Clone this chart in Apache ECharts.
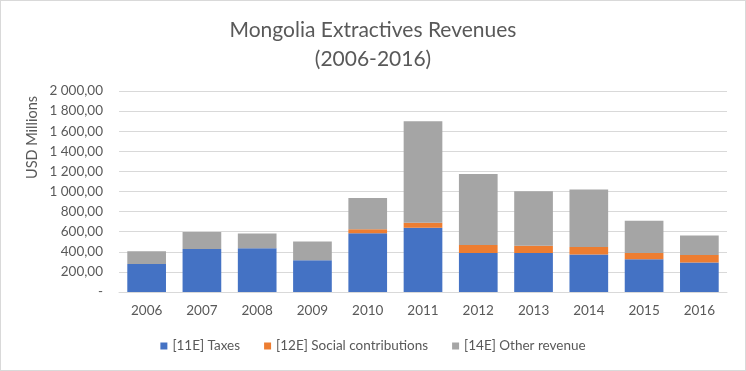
<!DOCTYPE html>
<html><head><meta charset="utf-8">
<script src="https://cdn.jsdelivr.net/npm/echarts@6/dist/echarts.min.js"></script>
<style>html,body{margin:0;padding:0;background:#fff}#c{width:746px;height:371px;box-sizing:border-box;border:1px solid #d9d9d9}</style>
</head><body><div id="c"></div>
<script>
var years = ['2006','2007','2008','2009','2010','2011','2012','2013','2014','2015','2016'];
var taxes = [278, 428, 435, 317, 585, 640, 389, 389, 373, 327, 294];
var social = [0, 0, 0, 0, 39, 50, 78, 72, 75, 62, 75];
var other = [127, 170, 147, 186, 311, 1009, 706, 542, 572, 320, 193];
var seriesNames = ['[11E] Taxes', '[12E] Social contributions', '[14E] Other revenue'];
var colors = ['#4472C4', '#ED7D31', '#A5A5A5'];

function fmt(v){
  if (v === 0) return '-';
  var s = Math.round(v).toString().replace(/\B(?=(\d{3})+(?!\d))/g, ' ');
  return s + ',00';
}
var font = 'Lato, "Open Sans", sans-serif';
var chart = echarts.init(document.getElementById('c'));
chart.setOption({
  animation: false,
  textStyle: {fontFamily: font},
  title: {
    text: 'Mongolia Extractives Revenues\n(2006-2016)',
    left: 'center', top: 10,
    textStyle: {fontFamily: font, fontSize: 21, fontWeight: 'normal', color: '#595959', lineHeight: 29}
  },
  legend: {
    bottom: 12, left: 'center', itemWidth: 7, itemHeight: 7, itemGap: 24,
    icon: 'rect',
    textStyle: {fontFamily: font, fontSize: 13.5, color: '#595959'},
    data: seriesNames
  },
  graphic: [{
    type: 'text', left: 24, top: 95, rotation: Math.PI/2,
    style: {text: 'USD Millions', fill: '#595959', font: '14.5px ' + font}
  }],
  grid: {left: 118, right: 18, top: 90, bottom: 78},
  xAxis: {
    type: 'category', data: years,
    axisLine: {lineStyle: {color: '#d9d9d9'}},
    axisTick: {show: false},
    axisLabel: {color: '#595959', fontSize: 13.5, margin: 12}
  },
  yAxis: {
    type: 'value', min: 0, max: 2000, interval: 200,
    axisLabel: {color: '#595959', fontSize: 13.5, formatter: fmt, margin: 16},
    splitLine: {lineStyle: {color: '#d9d9d9'}},
    axisLine: {show: false}, axisTick: {show: false}
  },
  series: [
    {name: seriesNames[0], type: 'bar', stack: 's', data: taxes, itemStyle: {color: colors[0]}, barCategoryGap: '30%'},
    {name: seriesNames[1], type: 'bar', stack: 's', data: social, itemStyle: {color: colors[1]}},
    {name: seriesNames[2], type: 'bar', stack: 's', data: other, itemStyle: {color: colors[2]}}
  ]
});
</script></body></html>
